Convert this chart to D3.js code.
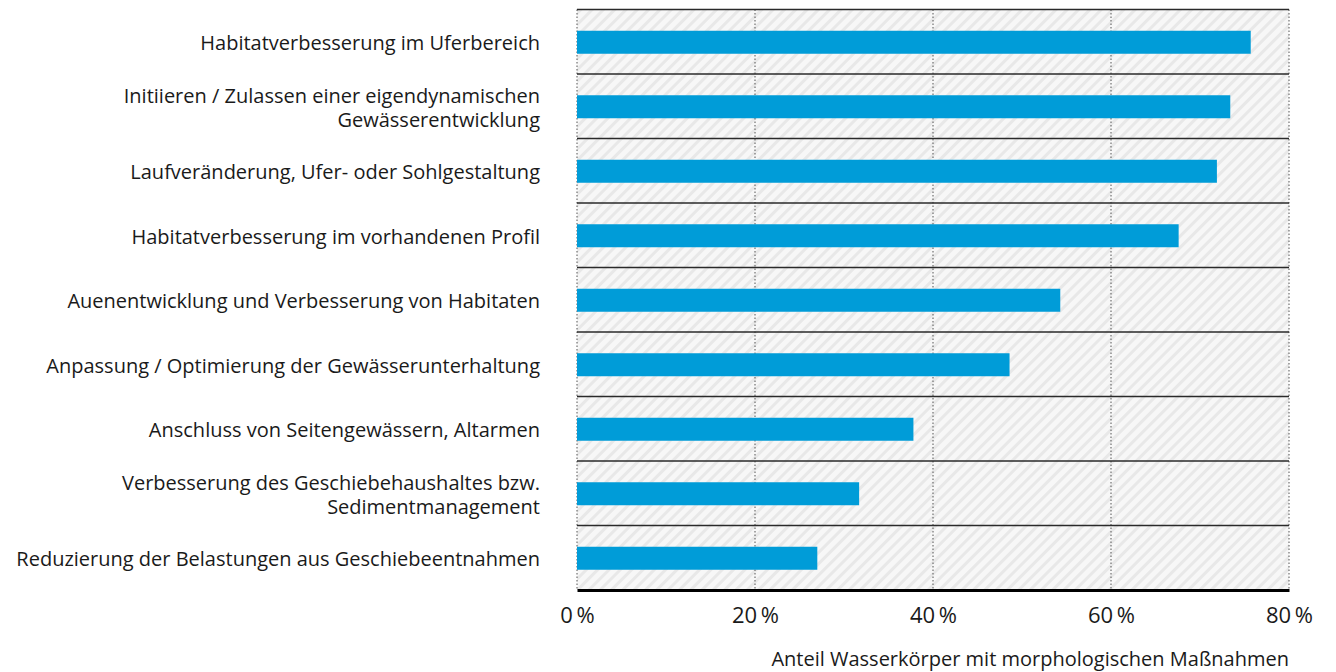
<!DOCTYPE html>
<html>
<head>
<meta charset="utf-8">
<script src="https://cdn.jsdelivr.net/npm/d3@7"></script>
<style>
  html, body { margin: 0; padding: 0; background: #fff; }
  svg { display: block; }
  text { font-family: "Open Sans", "Noto Sans", sans-serif; fill: #1a1a1a; }
</style>
</head>
<body>
<svg id="chart" width="1336" height="672"></svg>
<script>
// Maßnahmentypen (top to bottom), multi-line labels split on "\n"
const categories = [
  "Habitatverbesserung im Uferbereich",
  "Initiieren / Zulassen einer eigendynamischen\nGewässerentwicklung",
  "Laufveränderung, Ufer- oder Sohlgestaltung",
  "Habitatverbesserung im vorhandenen Profil",
  "Auenentwicklung und Verbesserung von Habitaten",
  "Anpassung / Optimierung der Gewässerunterhaltung",
  "Anschluss von Seitengewässern, Altarmen",
  "Verbesserung des Geschiebehaushaltes bzw.\nSedimentmanagement",
  "Reduzierung der Belastungen aus Geschiebeentnahmen"
];
// Anteil der Wasserkörper in %
const values = [75.7, 73.4, 71.9, 67.6, 54.3, 48.6, 37.8, 31.7, 27.0];
const tickValues = [0, 20, 40, 60, 80];
const axisTitle = "Anteil Wasserkörper mit morphologischen Maßnahmen";

const svg = d3.select("#chart");
const plotLeft = 577, plotRight = 1289, plotTop = 9.5, plotBottom = 590;

const x = d3.scaleLinear().domain([0, 80]).range([plotLeft, plotRight]);
const y = d3.scaleBand().domain(categories).range([plotTop, plotBottom]).paddingInner(0).paddingOuter(0);

// diagonal hatch for the plot background
const defs = svg.append("defs");
const pat = defs.append("pattern")
  .attr("id", "hatch").attr("patternUnits", "userSpaceOnUse")
  .attr("width", 8).attr("height", 8)
  .attr("patternTransform", "rotate(45)");
pat.append("rect").attr("width", 8).attr("height", 8).attr("fill", "#f7f7f7");
pat.append("rect").attr("width", 3).attr("height", 8).attr("fill", "#e8e8e8");

svg.append("rect")
  .attr("x", plotLeft).attr("y", plotTop)
  .attr("width", plotRight - plotLeft).attr("height", plotBottom - plotTop)
  .attr("fill", "url(#hatch)");

// dotted vertical grid
svg.append("g").selectAll("line").data(tickValues).join("line")
  .attr("x1", d => x(d)).attr("x2", d => x(d))
  .attr("y1", plotTop).attr("y2", plotBottom)
  .attr("stroke", "#555").attr("stroke-width", 1)
  .attr("stroke-dasharray", "1.5,2");

// row separators
svg.append("g").selectAll("line").data(categories).join("line")
  .attr("x1", plotLeft).attr("x2", plotRight)
  .attr("y1", d => y(d)).attr("y2", d => y(d))
  .attr("stroke", "#2a2a2a").attr("stroke-width", 1.5);

// bars
const barH = 23;
svg.append("g").selectAll("rect").data(categories).join("rect")
  .attr("x", x(0))
  .attr("y", d => y(d) + y.bandwidth() / 2 - barH / 2 + 0.5)
  .attr("width", (d, i) => x(values[i]) - x(0))
  .attr("height", barH)
  .attr("fill", "#009cd8");

// x axis
const xAxis = d3.axisBottom(x).tickValues(tickValues)
  .tickFormat(d => d + "\u2009%").tickSize(0).tickPadding(17);
const gx = svg.append("g").attr("transform", `translate(0,${plotBottom})`).call(xAxis);
gx.select(".domain").attr("stroke", "#000").attr("stroke-width", 3);
gx.selectAll("text").style("font-size", "22px").attr("fill", "#1a1a1a")
  .style("font-family", "'Open Sans', sans-serif");

// category labels
const lab = svg.append("g");
categories.forEach(c => {
  const lines = c.split("\n");
  const cy = y(c) + y.bandwidth() / 2 + 0.5;
  const lh = 24.5;
  lines.forEach((ln, j) => {
    lab.append("text")
      .attr("x", 540)
      .attr("y", cy + (j - (lines.length - 1) / 2) * lh)
      .attr("dy", "0.4em")
      .attr("text-anchor", "end")
      .style("font-size", "20px")
      .text(ln);
  });
});

// axis title
svg.append("text")
  .attr("x", plotRight).attr("y", 666)
  .attr("text-anchor", "end")
  .style("font-size", "20px")
  .text(axisTitle);
</script>
</body>
</html>
